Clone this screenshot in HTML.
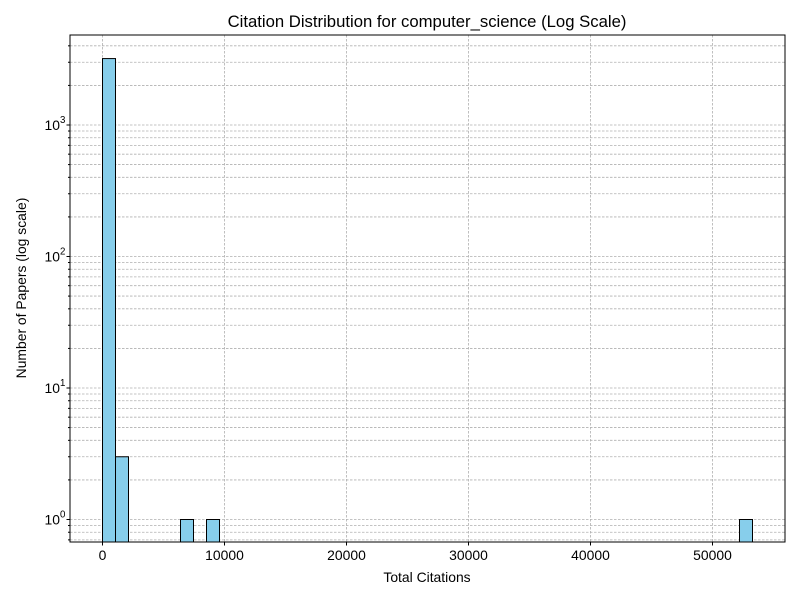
<!DOCTYPE html>
<html><head><meta charset="utf-8"><style>body{margin:0;background:#fff}svg{display:block}</style></head><body>
<svg width="800" height="600" xmlns="http://www.w3.org/2000/svg" font-family="Liberation Sans, DejaVu Sans, sans-serif">
<defs><clipPath id="c"><rect x="70" y="35" width="715" height="507"/></clipPath></defs>
<rect width="800" height="600" fill="#fff"/>
<g id="grid" stroke="#b0b0b0" stroke-width="0.8" stroke-dasharray="2.5,1.5" fill="none"></g>
<g id="bars" fill="#87ceeb" stroke="#000" stroke-width="1" clip-path="url(#c)"></g>
<rect x="70" y="35" width="715" height="507" fill="none" stroke="#000" stroke-width="1"/>
<g id="ticks" stroke="#000" stroke-width="1"></g>
<g id="labels" font-size="13.9" fill="#000"></g>
<text x="427" y="27" text-anchor="middle" font-size="16.7">Citation Distribution for computer_science (Log Scale)</text>
<text x="427" y="582" text-anchor="middle" font-size="13.9">Total Citations</text>
<text transform="translate(26,288) rotate(-90)" text-anchor="middle" font-size="13.9">Number of Papers (log scale)</text>
</svg>
<script>
const ns="http://www.w3.org/2000/svg";
function el(p,t,a,txt){const e=document.createElementNS(ns,t);for(const k in a)e.setAttribute(k,a[k]);if(txt!==undefined)e.textContent=txt;document.getElementById(p).appendChild(e);return e;}
const X=v=>102.5+v*0.0122, Y=v=>519.5-131.5*Math.log10(v);
for(let d=-1;d<=3;d++)for(let k=1;k<=9;k++){const v=k*Math.pow(10,d);const y=Y(v);if(y<35||y>542)continue;
 el("grid","line",{x1:70,x2:785,y1:y,y2:y});
 el("ticks","line",{x1:k==1?66.5:68,x2:70,y1:y,y2:y});
 if(k==1){el("labels","text",{x:60,y:y+5,"text-anchor":"end"},"10");el("labels","text",{x:60,y:y-2,"font-size":"9.7"},String(d));}
}
for(let v=0;v<=50000;v+=10000){const x=X(v);el("grid","line",{x1:x,x2:x,y1:35,y2:542});el("ticks","line",{x1:x,x2:x,y1:542,y2:545.5});el("labels","text",{x:x,y:560,"text-anchor":"middle"},String(v));}
const bars=[[0,3200],[1,3],[6,1],[8,1],[49,1]];
for(const [b,h] of bars){const x=102.5+b*13;const y=Y(h);el("bars","rect",{x:x,y:y,width:13,height:545-y});}
</script>
</body></html>
